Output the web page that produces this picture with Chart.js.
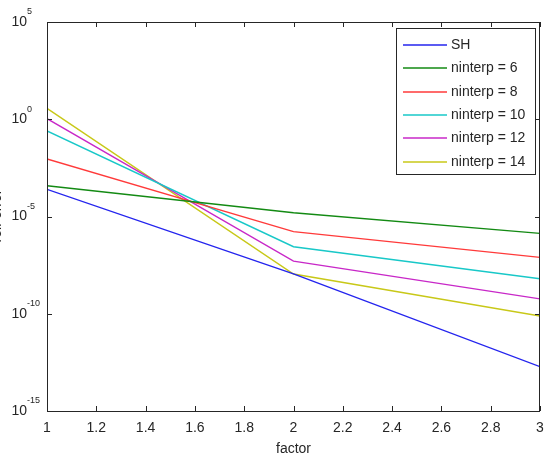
<!DOCTYPE html>
<html>
<head>
<meta charset="utf-8">
<script src="https://cdn.jsdelivr.net/npm/chart.js@4/dist/chart.umd.min.js"></script>
<style>
html,body{margin:0;padding:0;background:#fff;}
#wrap{width:545px;height:462px;}
</style>
</head>
<body>
<div id="wrap"><canvas id="c" width="545" height="462"></canvas></div>
<script>
const factors = [1, 2, 3];
const seriesLabels = ['SH', 'ninterp = 6', 'ninterp = 8', 'ninterp = 10', 'ninterp = 12', 'ninterp = 14'];
const shErr = [2.5e-4, 1.12e-8, 1.9e-13];
const n6Err = [3.8e-4, 1.55e-5, 1.35e-6];
const n8Err = [9.1e-3, 1.66e-6, 7.9e-8];
const n10Err = [0.25, 2.8e-7, 6.3e-9];
const n12Err = [1.07, 5.1e-8, 5.8e-10];
const n14Err = [3.6, 1.1e-8, 7.6e-11];
const yTickValues = [1e-15, 1e-10, 1e-5, 1e0, 1e5];
const yTickExponents = ['-15', '-10', '-5', '0', '5'];
const xTickValues = [1, 1.2, 1.4, 1.6, 1.8, 2, 2.2, 2.4, 2.6, 2.8, 3];

const colors = ['#2424ee', '#138a13', '#ff3a3a', '#18c8c8', '#c828c8', '#c8c818'];
const allSeries = [shErr, n6Err, n8Err, n10Err, n12Err, n14Err];
const FONT = '"Liberation Sans", Arial, sans-serif';
const TXT = '#262626';

const datasets = allSeries.map((s, i) => ({
  label: seriesLabels[i],
  data: factors.map((f, j) => ({x: f, y: s[j]})),
  borderColor: colors[i],
  backgroundColor: colors[i],
  borderWidth: 1.4,
  pointRadius: 0,
  tension: 0,
  fill: false
}));

function noPad(s) { s.paddingLeft = 0; s.paddingRight = 0; s.paddingTop = 0; s.paddingBottom = 0; }

const decor = {
  id: 'decor',
  afterDraw(chart) {
    const ctx = chart.ctx;
    const a = chart.chartArea;
    const xs = chart.scales.x, ys = chart.scales.y;
    ctx.save();
    ctx.strokeStyle = TXT;
    ctx.lineWidth = 1;
    ctx.strokeRect(Math.round(a.left) + 0.5, Math.round(a.top) + 0.5, Math.round(a.right - a.left) - 1, Math.round(a.bottom - a.top));
    ctx.beginPath();
    xTickValues.forEach(v => {
      const px = Math.round(xs.getPixelForValue(v)) + 0.5;
      ctx.moveTo(px, a.bottom); ctx.lineTo(px, a.bottom - 5);
      ctx.moveTo(px, a.top); ctx.lineTo(px, a.top + 5);
    });
    yTickValues.forEach(v => {
      const py = Math.round(ys.getPixelForValue(v)) + 0.5;
      ctx.moveTo(a.left, py); ctx.lineTo(a.left + 5, py);
      ctx.moveTo(a.right, py); ctx.lineTo(a.right - 5, py);
    });
    ctx.stroke();
    ctx.fillStyle = TXT;
    ctx.font = '9px ' + FONT;
    ctx.textAlign = 'left';
    ctx.textBaseline = 'middle';
    yTickValues.forEach((v, i) => {
      const py = ys.getPixelForValue(v);
      ctx.fillText(yTickExponents[i], 27, py - 10);
    });
    ctx.save();
    ctx.translate(1, 216);
    ctx.rotate(-Math.PI / 2);
    ctx.font = '14px ' + FONT;
    ctx.textAlign = 'center';
    ctx.textBaseline = 'alphabetic';
    ctx.fillText('rel. error', 0, 0);
    ctx.restore();
    const lx = 396, ly = 28, lw = 139, lh = 146;
    ctx.fillStyle = '#fff';
    ctx.fillRect(lx, ly, lw, lh);
    ctx.strokeStyle = TXT;
    ctx.lineWidth = 1;
    ctx.strokeRect(lx + 0.5, ly + 0.5, lw, lh);
    ctx.font = '14px ' + FONT;
    ctx.textBaseline = 'middle';
    chart.data.datasets.forEach((d, i) => {
      const cy = Math.round(45 + i * 23.3);
      ctx.strokeStyle = d.borderColor;
      ctx.lineWidth = 1.5;
      ctx.beginPath();
      ctx.moveTo(403, cy); ctx.lineTo(447, cy);
      ctx.stroke();
      ctx.fillStyle = TXT;
      ctx.fillText(d.label, 451, cy);
    });
    ctx.restore();
  }
};

new Chart(document.getElementById('c'), {
  type: 'line',
  data: { datasets },
  options: {
    responsive: false,
    animation: false,
    devicePixelRatio: 1,
    layout: { padding: { top: 22, right: 5, left: 0, bottom: 0 } },
    plugins: { legend: { display: false }, tooltip: { enabled: false } },
    scales: {
      x: {
        type: 'linear',
        min: 1, max: 3,
        afterBuildTicks: s => { s.ticks = xTickValues.map(v => ({value: v})); },
        afterFit: s => { s.height = 51; noPad(s); },
        grid: { display: false, drawTicks: false },
        border: { display: false },
        ticks: {
          padding: 9,
          color: TXT,
          font: { family: FONT, size: 14 },
          maxRotation: 0,
          autoSkip: false,
          callback: v => String(Math.round(v * 10) / 10)
        },
        title: { display: true, text: 'factor', color: TXT, font: { family: FONT, size: 14 }, padding: { top: 0, bottom: 4 } }
      },
      y: {
        type: 'logarithmic',
        min: 1e-15, max: 1e5,
        afterBuildTicks: s => { s.ticks = yTickValues.map(v => ({value: v})); },
        afterFit: s => { s.width = 47; noPad(s); },
        grid: { display: false, drawTicks: false },
        border: { display: false },
        ticks: {
          padding: 20,
          color: TXT,
          font: { family: FONT, size: 14 },
          autoSkip: false,
          callback: () => '10'
        }
      }
    }
  },
  plugins: [decor]
});
</script>
</body>
</html>
